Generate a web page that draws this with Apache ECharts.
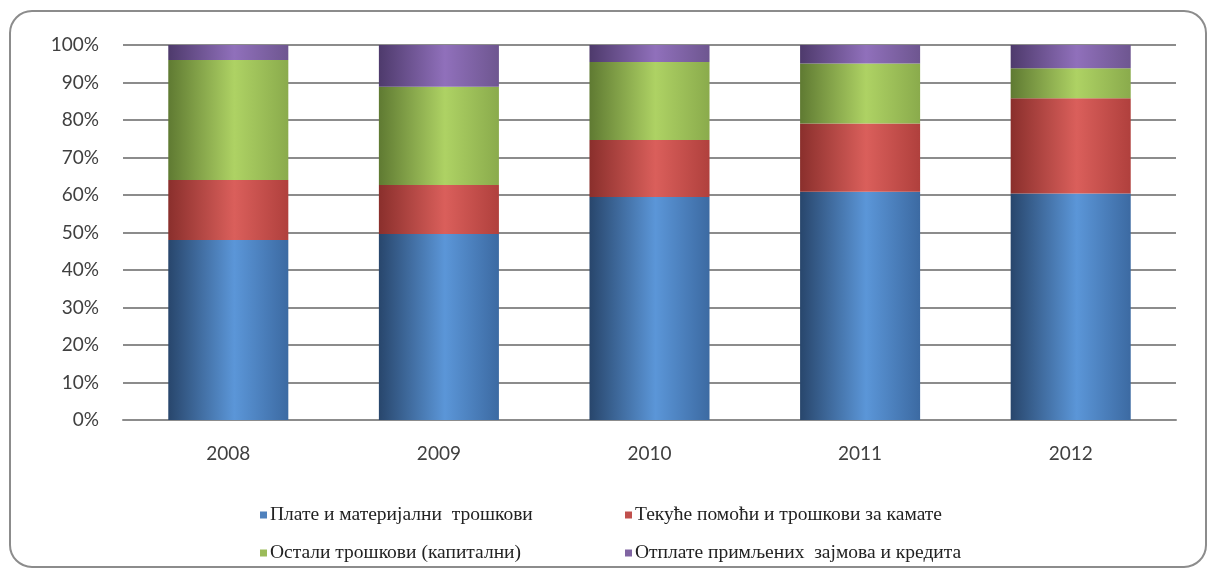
<!DOCTYPE html>
<html>
<head>
<meta charset="utf-8">
<script src="https://cdn.jsdelivr.net/npm/echarts@6/dist/echarts.min.js"></script>
<style>
html,body{margin:0;padding:0;background:#fff;}
#main{width:1208px;height:572px;}
</style>
</head>
<body>
<div id="main"></div>
<script>
var years=['2008','2009','2010','2011','2012'];
var yTicks=['0%','10%','20%','30%','40%','50%','60%','70%','80%','90%','100%'];
var names=['Плате и материјални  трошкови','Текуће помоћи и трошкови за камате','Остали трошкови (капитални)','Отплате примљених  зајмова и кредита'];
// shares per year, in %
var plate=[48.0,49.6,59.5,60.9,60.4];
var pomoci=[16.0,13.1,15.2,18.2,25.4];
var ostali=[32.0,26.2,20.8,16.0,8.0];
var otplate=[4.0,11.1,4.5,4.9,6.2];

var chart=echarts.init(document.getElementById('main'));

function grad(dark,light,mid){
	return new echarts.graphic.LinearGradient(0,0,1,0,[
		{offset:0,color:dark},
		{offset:0.55,color:light},
		{offset:1,color:mid}
	]);
}
var fills=[
	grad('#28466c','#5b96d8','#3c6aa2'),
	grad('#8a2f2c','#da5f5b','#b0403d'),
	grad('#5f7a32','#aed264','#8aab4c'),
	grad('#4e3a6c','#9070bb','#6e5690')
];
var legendColors=['#4f81bd','#c0504d','#9bbb59','#8064a2'];
var values=[plate,pomoci,ostali,otplate];

var series=[];
for(var i=0;i<4;i++){
	series.push({
		name:names[i],
		type:'bar',
		stack:'all',
		barWidth:'57%',
		data:values[i],
		itemStyle:{color:fills[i]},
		emphasis:{disabled:true}
	});
}

var legendPos=[[255,500],[620,500],[255,538],[620,538]];
var legends=[];
for(var j=0;j<4;j++){
	legends.push({
		data:[{name:names[j],itemStyle:{color:legendColors[j]}}],
		left:legendPos[j][0],
		top:legendPos[j][1],
		icon:'rect',
		itemWidth:7,
		itemHeight:7,
		itemGap:0,
		selectedMode:false,
		textStyle:{fontFamily:'Liberation Serif',fontSize:19.5,color:'#222',padding:[0,0,0,-2]}
	});
}

chart.setOption({
	animation:false,
	graphic:[{
		type:'rect',
		shape:{x:10,y:11,width:1196,height:556,r:22},
		style:{fill:'none',stroke:'#8c8c8c',lineWidth:2},
		silent:true,
		z:-1
	}],
	legend:legends,
	grid:{left:123,right:32,top:45,bottom:152},
	xAxis:{
		type:'category',
		data:years,
		axisTick:{show:false},
		axisLine:{lineStyle:{color:'#8c8c8c',width:2}},
		axisLabel:{fontFamily:'Lato',fontSize:19,color:'#404040',margin:24}
	},
	yAxis:{
		type:'value',
		min:0,
		max:100,
		interval:10,
		axisLine:{show:false},
		axisTick:{show:false},
		axisLabel:{
			fontFamily:'Lato',fontSize:19,color:'#404040',margin:24,
			formatter:function(v){return yTicks[Math.round(v/10)];}
		},
		splitLine:{lineStyle:{color:'#8c8c8c',width:2}}
	},
	series:series
});
</script>
</body>
</html>
